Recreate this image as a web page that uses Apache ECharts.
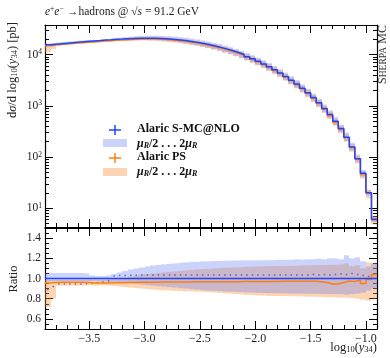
<!DOCTYPE html>
<html>
<head>
<meta charset="utf-8">
<script src="https://cdn.jsdelivr.net/npm/echarts@6/dist/echarts.min.js"></script>
<style>
  html, body { margin: 0; padding: 0; background: #fff; }
  #chart { width: 390px; height: 358px; }
</style>
</head>
<body>
<div id="chart"></div>
<script>
// bins in log10(y34), width 0.05, from -3.9 to -0.9
const binLow = -3.9;
const binWidth = 0.05;

// Alaric S-MC@NLO, dsigma/dlog10(y34) [pb]
const mcnloValues = [
  15670, 16030, 16410, 16790, 17140, 17500, 17870, 18240, 18580, 18920,
  19280, 19590, 19910, 20180, 20460, 20700, 20890, 20990, 20990, 20890,
  20700, 20420, 20040, 19590, 19050, 18450, 17780, 17060, 16290, 15490,
  14620, 13740, 12820, 11910, 10990, 10070, 9160, 8280, 7410, 6590,
  5810, 5070, 4390, 3760, 3180, 2670, 2210, 1800, 1450, 1150,
  890, 680, 500, 360, 245, 158, 93, 48, 20, 6.0
];

// Alaric PS / Alaric S-MC@NLO
const psRatio = [
  0.955, 0.960, 0.963, 0.963, 0.963, 0.963, 0.962, 0.960, 0.956, 0.955,
  0.955, 0.956, 0.957, 0.958, 0.960, 0.961, 0.962, 0.963, 0.964, 0.964,
  0.965, 0.965, 0.965, 0.966, 0.966, 0.966, 0.967, 0.967, 0.967, 0.968,
  0.968, 0.968, 0.969, 0.969, 0.969, 0.970, 0.970, 0.970, 0.970, 0.971,
  0.971, 0.971, 0.972, 0.972, 0.972, 0.972, 0.973, 0.972, 0.972, 0.968,
  0.960, 0.945, 0.945, 0.960, 0.975, 0.970, 0.985, 0.950, 0.990, 1.040
];

// scale band mu_R/2 ... 2 mu_R, relative to S-MC@NLO central
const mcnloBandLo = [
  0.970, 0.972, 0.974, 0.975, 0.975, 0.975, 0.975, 0.975, 0.975, 0.975,
  0.972, 0.970, 0.965, 0.960, 0.955, 0.950, 0.945, 0.940, 0.935, 0.930,
  0.925, 0.920, 0.915, 0.910, 0.905, 0.900, 0.895, 0.890, 0.885, 0.880,
  0.878, 0.875, 0.872, 0.870, 0.868, 0.865, 0.862, 0.860, 0.858, 0.856,
  0.855, 0.854, 0.853, 0.852, 0.851, 0.850, 0.850, 0.849, 0.848, 0.848,
  0.847, 0.846, 0.846, 0.845, 0.840, 0.845, 0.850, 0.860, 0.880, 0.900
];
const mcnloBandHi = [
  1.055, 1.055, 1.055, 1.055, 1.055, 1.055, 1.055, 1.050, 1.030, 1.025,
  1.025, 1.030, 1.045, 1.060, 1.075, 1.090, 1.100, 1.110, 1.120, 1.130,
  1.135, 1.140, 1.145, 1.150, 1.155, 1.160, 1.165, 1.165, 1.170, 1.170,
  1.172, 1.175, 1.175, 1.178, 1.178, 1.180, 1.180, 1.180, 1.180, 1.180,
  1.182, 1.182, 1.185, 1.185, 1.185, 1.190, 1.185, 1.190, 1.190, 1.195,
  1.190, 1.200, 1.200, 1.190, 1.230, 1.200, 1.210, 1.170, 1.120, 1.150
];
const psBandLo = [
  0.720, 0.800, 0.930, 0.930, 0.930, 0.930, 0.930, 0.930, 0.930, 0.930,
  0.930, 0.930, 0.925, 0.920, 0.915, 0.910, 0.905, 0.900, 0.895, 0.890,
  0.887, 0.884, 0.881, 0.878, 0.876, 0.874, 0.872, 0.870, 0.868, 0.866,
  0.862, 0.858, 0.854, 0.850, 0.846, 0.842, 0.838, 0.835, 0.832, 0.830,
  0.828, 0.827, 0.826, 0.825, 0.824, 0.823, 0.822, 0.821, 0.820, 0.818,
  0.816, 0.814, 0.812, 0.810, 0.810, 0.805, 0.800, 0.790, 0.780, 0.800
];
const psBandHi = [
  0.985, 0.985, 0.985, 0.985, 0.985, 0.985, 0.985, 0.985, 0.985, 0.985,
  0.985, 0.988, 0.995, 1.000, 1.010, 1.020, 1.030, 1.040, 1.045, 1.050,
  1.055, 1.060, 1.065, 1.070, 1.075, 1.080, 1.085, 1.090, 1.093, 1.096,
  1.100, 1.103, 1.106, 1.108, 1.110, 1.112, 1.115, 1.117, 1.120, 1.121,
  1.122, 1.123, 1.124, 1.125, 1.126, 1.128, 1.130, 1.131, 1.132, 1.133,
  1.134, 1.135, 1.137, 1.140, 1.150, 1.120, 1.130, 1.100, 1.160, 1.150
];

// dotted markers in the ratio panel
const dotRatio = [
  0.890, 0.920, 0.945, 0.945, 0.945, 0.945, 0.945, 0.950, 0.955, 0.960,
  0.965, 0.975, 1.025, 1.030, 1.030, 1.032, 1.033, 1.034, 1.035, 1.035,
  1.035, 1.035, 1.035, 1.035, 1.035, 1.035, 1.035, 1.035, 1.035, 1.035,
  1.035, 1.035, 1.035, 1.035, 1.035, 1.035, 1.035, 1.035, 1.035, 1.035,
  1.035, 1.035, 1.035, 1.035, 1.035, 1.035, 1.035, 1.035, 1.040, 1.035,
  1.040, 1.035, 1.040, 1.045, 1.040, 1.050, 1.040, 1.030, 1.020, 1.000
];

const xMajorTicks = [-3.5, -3.0, -2.5, -2.0, -1.5, -1.0];
const yMajorTicks = [10, 100, 1000, 10000];
const ratioMajorTicks = [0.6, 0.8, 1.0, 1.2, 1.4];

const SERIF = '"Liberation Serif", "DejaVu Serif", serif';
const BLUE = '#1f44ff';
const ORANGE = '#ff7f0e';
const BLUE_BAND = 'rgba(110,130,240,0.35)';
const ORANGE_BAND = 'rgba(250,145,60,0.38)';

const nBins = mcnloValues.length;
const edges = [];
for (let i = 0; i <= nBins; i++) edges.push(+(binLow + i * binWidth).toFixed(3));

const xMinorTicks = [];
for (let v = -39; v <= -9; v++) xMinorTicks.push(v / 10);
const yMinorTicks = [];
[1, 10, 100, 1000, 10000].forEach((d) => {
  for (let k = 2; k <= 9; k++) if (k * d > 4.3 && k * d < 38000) yMinorTicks.push(k * d);
});
const ratioMinorTicks = [];
for (let v = 11; v <= 29; v++) ratioMinorTicks.push(v / 20);

const psValues = mcnloValues.map((v, i) => v * psRatio[i]);

const stepLine = (vals) => {
  const pts = vals.map((v, i) => [edges[i], v]);
  pts.push([edges[nBins], vals[nBins - 1]]);
  return pts;
};
const bandRows = (base, lo, hi) =>
  base.map((v, i) => [edges[i], edges[i + 1], v * lo[i], v * hi[i]]);

const bandRender = (color) => (params, api) => {
  const a = api.coord([api.value(0), api.value(3)]);
  const b = api.coord([api.value(1), api.value(2)]);
  const x0 = Math.round(a[0]);
  const x1 = Math.round(b[0]);
  return {
    type: 'rect',
    shape: { x: x0, y: a[1], width: x1 - x0, height: b[1] - a[1] },
    style: { fill: color },
  };
};

const minus = (v) => (v < 0 ? '\u2212' : '') + Math.abs(v).toFixed(1);

const xAxisPart = (grid, pos, major, labels) => ({
  type: 'value',
  gridIndex: grid,
  position: pos,
  min: -3.9,
  max: -0.9,
  axisLine: { show: major, onZero: false, lineStyle: { color: '#000', width: 1.2 } },
  axisTick: {
    show: true,
    inside: true,
    length: major ? 8 : 4,
    customValues: major ? xMajorTicks : xMinorTicks,
    lineStyle: { color: '#000', width: 1 },
  },
  axisLabel: {
    show: labels,
    customValues: xMajorTicks,
    formatter: minus,
    fontFamily: SERIF,
    fontSize: 12,
    color: '#222',
    margin: 4,
  },
  splitLine: { show: false },
});

const supRich = {
  b: { fontFamily: SERIF, fontSize: 11.5, color: '#222' },
  s: { fontFamily: SERIF, fontSize: 7.5, color: '#222', verticalAlign: 'top', padding: [0, 0, 5, 0] },
};

const yMainPart = (pos, major) => ({
  type: 'log',
  logBase: 10,
  gridIndex: 0,
  position: pos,
  min: 4.3,
  max: 38000,
  axisLine: { show: major, lineStyle: { color: '#000', width: 1.2 } },
  axisTick: {
    show: true,
    inside: true,
    length: major ? 8 : 4,
    customValues: major ? yMajorTicks : yMinorTicks,
    lineStyle: { color: '#000', width: 1 },
  },
  axisLabel: {
    show: major && pos === 'left',
    customValues: yMajorTicks,
    formatter: (v) => '{b|10}{s|' + Math.round(Math.log10(v)) + '}',
    rich: supRich,
    margin: 3,
  },
  splitLine: { show: false },
  minorTick: { show: false },
});

const yRatioPart = (pos, major) => ({
  type: 'value',
  gridIndex: 1,
  position: pos,
  min: 0.5,
  max: 1.5,
  axisLine: { show: major, lineStyle: { color: '#000', width: 1.2 } },
  axisTick: {
    show: true,
    inside: true,
    length: major ? 8 : 4,
    customValues: major ? ratioMajorTicks : ratioMinorTicks,
    lineStyle: { color: '#000', width: 1 },
  },
  axisLabel: {
    show: major && pos === 'left',
    customValues: ratioMajorTicks,
    formatter: (v) => v.toFixed(1),
    fontFamily: SERIF,
    fontSize: 11.5,
    color: '#222',
    margin: 4,
  },
  splitLine: { show: false },
});

const chart = echarts.init(document.getElementById('chart'), null, { renderer: 'canvas' });

const option = {
  animation: false,
  backgroundColor: '#fff',
  grid: [
    { left: 45, top: 25, width: 332, height: 202 },
    { left: 45, top: 228, width: 332, height: 101 },
  ],
  xAxis: [
    xAxisPart(0, 'bottom', true, false),
    xAxisPart(0, 'bottom', false, false),
    xAxisPart(0, 'top', true, false),
    xAxisPart(0, 'top', false, false),
    xAxisPart(1, 'bottom', true, true),
    xAxisPart(1, 'bottom', false, false),
    xAxisPart(1, 'top', true, false),
    xAxisPart(1, 'top', false, false),
  ],
  yAxis: [
    yMainPart('left', true),
    yMainPart('left', false),
    yMainPart('right', true),
    yMainPart('right', false),
    yRatioPart('left', true),
    yRatioPart('left', false),
    yRatioPart('right', true),
    yRatioPart('right', false),
  ],
  series: [
    {
      type: 'custom',
      xAxisIndex: 0, yAxisIndex: 0,
      clip: true,
      renderItem: bandRender(ORANGE_BAND),
      data: bandRows(mcnloValues, psBandLo, psBandHi),
      z: 1,
    },
    {
      type: 'custom',
      xAxisIndex: 0, yAxisIndex: 0,
      clip: true,
      renderItem: bandRender(BLUE_BAND),
      data: bandRows(mcnloValues, mcnloBandLo, mcnloBandHi),
      z: 1,
    },
    {
      type: 'line',
      xAxisIndex: 0, yAxisIndex: 0,
      step: 'end',
      showSymbol: false,
      lineStyle: { color: ORANGE, width: 1.5 },
      data: stepLine(psValues),
      z: 2,
    },
    {
      type: 'line',
      xAxisIndex: 0, yAxisIndex: 0,
      step: 'end',
      showSymbol: false,
      lineStyle: { color: BLUE, width: 1.5 },
      data: stepLine(mcnloValues),
      z: 3,
    },
    {
      type: 'custom',
      xAxisIndex: 4, yAxisIndex: 4,
      clip: true,
      renderItem: bandRender(ORANGE_BAND),
      data: bandRows(mcnloValues.map(() => 1), psBandLo, psBandHi),
      z: 1,
    },
    {
      type: 'custom',
      xAxisIndex: 4, yAxisIndex: 4,
      clip: true,
      renderItem: bandRender(BLUE_BAND),
      data: bandRows(mcnloValues.map(() => 1), mcnloBandLo, mcnloBandHi),
      z: 1,
    },
    {
      type: 'scatter',
      xAxisIndex: 4, yAxisIndex: 4,
      symbol: 'rect',
      symbolSize: [1.5, 1.5],
      itemStyle: { color: '#3a50d8' },
      data: dotRatio.map((v, i) => [edges[i] + binWidth / 2, v]),
      z: 2,
    },
    {
      type: 'line',
      xAxisIndex: 4, yAxisIndex: 4,
      step: 'end',
      showSymbol: false,
      lineStyle: { color: ORANGE, width: 1.5 },
      data: stepLine(psRatio),
      z: 3,
    },
    {
      type: 'line',
      xAxisIndex: 4, yAxisIndex: 4,
      step: 'end',
      showSymbol: false,
      lineStyle: { color: BLUE, width: 1.5 },
      data: stepLine(mcnloValues.map(() => 1)),
      z: 4,
    },
  ],
  graphic: [
    {
      type: 'text', left: 45, top: 5,
      style: {
        text: '{i|e}{s|+}{i|e}{s|\u2212} {n|\u2192hadrons @ \u221A}{o|s}{n| = 91.2 GeV}',
        rich: {
          n: { fontFamily: SERIF, fontSize: 11.5, fill: '#222' },
          i: { fontFamily: SERIF, fontSize: 11.5, fontStyle: 'italic', fill: '#222' },
          o: { fontFamily: SERIF, fontSize: 11.5, fontStyle: 'italic', fill: '#222' },
          s: { fontFamily: SERIF, fontSize: 7.5, fill: '#222', verticalAlign: 'top', padding: [0, 0, 5, 0] },
        },
      },
    },
    {
      type: 'text', x: 389, y: 25, rotation: Math.PI / 2,
      style: {
        text: '{a|S}{b|HERPA} {a|MC}',
        align: 'right', verticalAlign: 'bottom',
        rich: {
          a: { fontFamily: SERIF, fontSize: 12, fill: '#333' },
          b: { fontFamily: SERIF, fontSize: 9.5, fill: '#333' },
        },
      },
    },
    {
      type: 'text', x: 19, y: 22, rotation: Math.PI / 2,
      style: {
        text: '{n|d}{i|\u03C3}{n|/d log}{d|10}{n|(}{i|y}{d|34}{n|) [pb]}',
        align: 'right', verticalAlign: 'bottom',
        rich: {
          n: { fontFamily: SERIF, fontSize: 12.5, fill: '#222' },
          i: { fontFamily: SERIF, fontSize: 12.5, fontStyle: 'italic', fill: '#222' },
          d: { fontFamily: SERIF, fontSize: 8.5, fill: '#222', verticalAlign: 'bottom', padding: [4, 0, 0, 0] },
        },
      },
    },
    {
      type: 'text', x: 20, y: 279, rotation: Math.PI / 2,
      style: {
        text: 'Ratio', align: 'center', verticalAlign: 'bottom',
        fontFamily: SERIF, fontSize: 12.5, fill: '#222',
      },
    },
    {
      type: 'text', x: 377, y: 341,
      style: {
        text: '{n|log}{d|10}{n|(}{i|y}{d|34}{n|)}',
        align: 'right', verticalAlign: 'top',
        rich: {
          n: { fontFamily: SERIF, fontSize: 12.5, fill: '#222' },
          i: { fontFamily: SERIF, fontSize: 12.5, fontStyle: 'italic', fill: '#222' },
          d: { fontFamily: SERIF, fontSize: 8.5, fill: '#222', verticalAlign: 'bottom', padding: [4, 0, 0, 0] },
        },
      },
    },
    // legend
    { type: 'line', shape: { x1: 109, y1: 130, x2: 121, y2: 130 }, style: { stroke: BLUE, lineWidth: 1.5 } },
    { type: 'line', shape: { x1: 115, y1: 125, x2: 115, y2: 135 }, style: { stroke: BLUE, lineWidth: 1.5 } },
    { type: 'rect', shape: { x: 103, y: 139, width: 24, height: 8 }, style: { fill: BLUE_BAND } },
    { type: 'line', shape: { x1: 109, y1: 158, x2: 121, y2: 158 }, style: { stroke: ORANGE, lineWidth: 1.5 } },
    { type: 'line', shape: { x1: 115, y1: 153, x2: 115, y2: 163 }, style: { stroke: ORANGE, lineWidth: 1.5 } },
    { type: 'rect', shape: { x: 103, y: 168, width: 24, height: 8 }, style: { fill: ORANGE_BAND } },
    {
      type: 'text', x: 137, y: 129,
      style: { text: 'Alaric S-MC@NLO', verticalAlign: 'middle', fontFamily: SERIF, fontSize: 12, fontWeight: 'bold', fill: '#111' },
    },
    {
      type: 'text', x: 137, y: 157,
      style: { text: 'Alaric PS', verticalAlign: 'middle', fontFamily: SERIF, fontSize: 12, fontWeight: 'bold', fill: '#111' },
    },
    ...[144, 172].map((y) => ({
      type: 'text', x: 137, y: y,
      style: {
        text: '{i|\u03BC}{d|R}{n|/2 . . . 2}{i|\u03BC}{d|R}',
        verticalAlign: 'middle',
        rich: {
          n: { fontFamily: SERIF, fontSize: 12, fontWeight: 'bold', fill: '#111' },
          i: { fontFamily: SERIF, fontSize: 12, fontStyle: 'italic', fontWeight: 'bold', fill: '#111' },
          d: { fontFamily: SERIF, fontSize: 8, fontStyle: 'italic', fontWeight: 'bold', fill: '#111', verticalAlign: 'bottom', padding: [4, 0, 0, 0] },
        },
      },
    })),
  ],
};

chart.setOption(option);
</script>
</body>
</html>
